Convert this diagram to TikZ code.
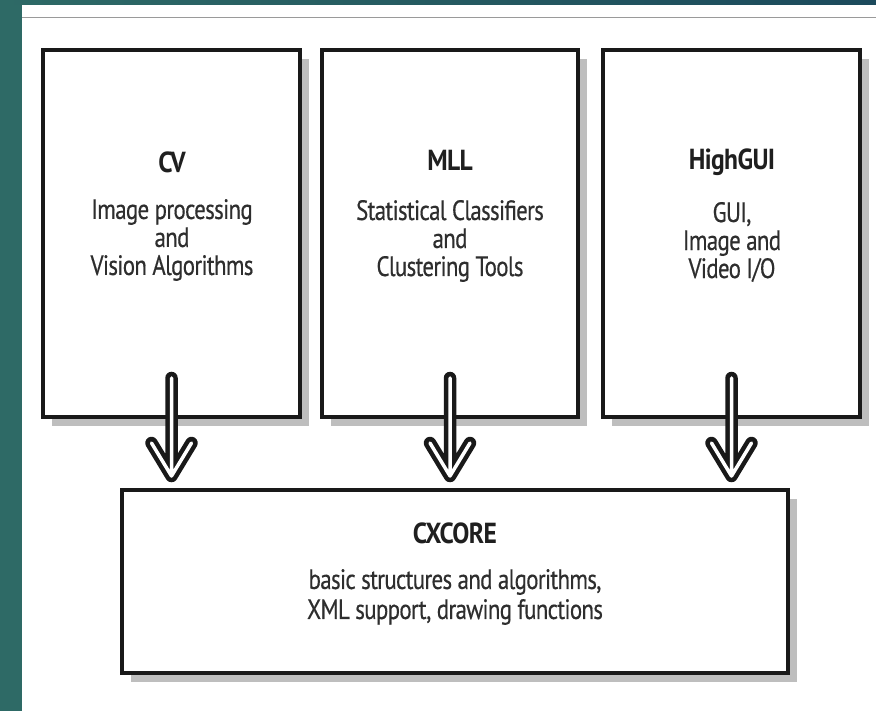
\documentclass[tikz,border=0pt]{standalone}
\usepackage{fontspec}
\setmainfont{PT Sans}[FakeStretch=0.82, LetterSpace=-2.5, FakeBold=0.4]
\newfontfamily\titlefont{PT Sans Bold}[FakeStretch=0.88, LetterSpace=-2.0]
\usetikzlibrary{calc}
\definecolor{tealL}{HTML}{2E6A66}
\definecolor{tealR}{HTML}{1C4A5C}
\definecolor{shadowgray}{HTML}{BEBEBE}
\definecolor{rulegray}{HTML}{9A9A9A}
\tikzset{
  x=1pt, y=-1pt,
  modbox/.style={draw=black!90, line width=4pt, fill=white, inner sep=0pt, outer sep=0pt},
  shadowbox/.style={fill=shadowgray},
  titletext/.style={font=\fontsize{29pt}{32pt}\selectfont\titlefont, text=black!88, inner sep=0pt},
  bodytext/.style={font=\fontsize{28pt}{28pt}\selectfont, text=black!82, align=center, inner sep=0pt},
  hollowarrow/.style={draw=black!90, line width=4.5pt, double=white, double distance=3.5pt, line cap=round, line join=round}
}
\begin{document}
\begin{tikzpicture}
\useasboundingbox (0,0) rectangle (876,711);
\fill[white] (0,0) rectangle (876,711);
\fill[tealL] (0,0) rectangle (22,711);
\shade[left color=tealL, right color=tealR] (0,0) rectangle (876,5);
\draw[rulegray, line width=1.6pt] (22,17.5) -- (876,17.5);

% shadows
\fill[shadowbox] (52,59) rectangle (309,426);
\fill[shadowbox] (331,59) rectangle (587,426);
\fill[shadowbox] (612,59) rectangle (869,426);
\fill[shadowbox] (131,499) rectangle (797,682);

% boxes
\node[modbox, minimum width=257pt, minimum height=367pt] (cv) at (171.5,233.5) {};
\node[modbox, minimum width=256pt, minimum height=367pt] (mll) at (450,233.5) {};
\node[modbox, minimum width=257pt, minimum height=367pt] (gui) at (731.5,233.5) {};
\node[modbox, minimum width=666pt, minimum height=183pt] (core) at (455,581.5) {};

% texts
\node[titletext] (cvT) at (172,162) {CV};
\node[bodytext] (cvB) at (172,240) {Image processing\\and\\Vision Algorithms};
\node[titletext] (mllT) at (450,160) {MLL};
\node[bodytext] (mllB) at (450,241) {Statistical Classifiers\\and\\Clustering Tools};
\node[titletext] (guiT) at (732,162) {HighGUI};
\node[bodytext] (guiB) at (732,242) {GUI,\\Image and\\Video I/O};
\node[titletext] (coreT) at (455,533) {CXCORE};
\node[bodytext, font=\fontsize{28pt}{30pt}\selectfont] (coreB) at (455,597) {basic structures and algorithms,\\XML support, drawing functions};

% arrows
\foreach \b in {cv,mll,gui}{
  \coordinate (\b s) at ($(\b.south)+(0,-39)$);
  \coordinate (\b t) at ($(\b.south |- core.north)+(0,-14)$);
  \draw[hollowarrow] (\b s) -- (\b t) ($(\b t)+(-20,-33)$) -- (\b t) -- ($(\b t)+(20,-33)$);
}
\end{tikzpicture}
\end{document}
